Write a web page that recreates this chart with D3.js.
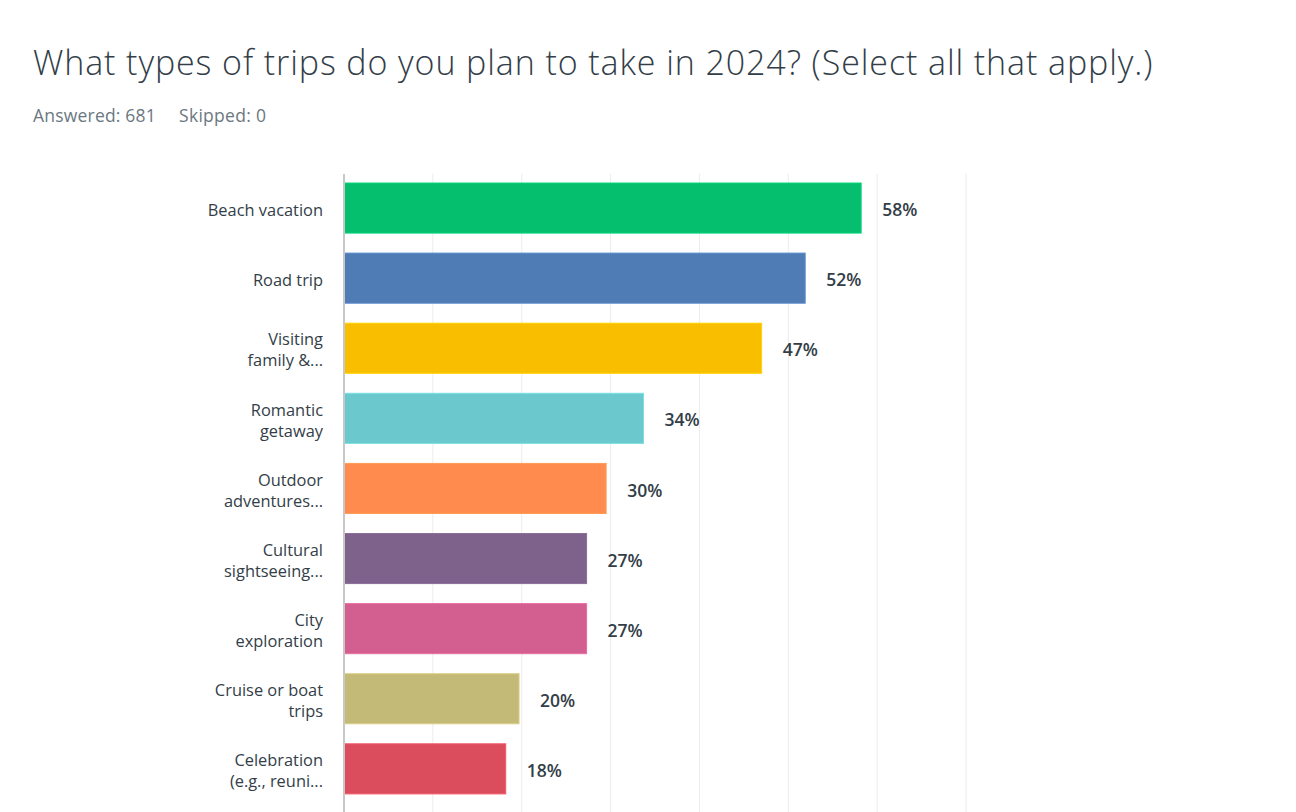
<!DOCTYPE html>
<html>
<head>
<meta charset="utf-8">
<script src="https://cdn.jsdelivr.net/npm/d3@7"></script>
<style>
  html, body { margin: 0; padding: 0; background: #fff; }
  svg { display: block; font-family: "Open Sans", "Noto Sans", sans-serif; }
</style>
</head>
<body>
<svg id="chart" width="1296" height="812"></svg>
<script>
// data
const title = 'What types of trips do you plan to take in 2024? (Select all that apply.)'
const answered = 681
const skipped = 0
const categories = [
  'Beach vacation',
  'Road trip',
  'Visiting|family &...',
  'Romantic|getaway',
  'Outdoor|adventures...',
  'Cultural|sightseeing...',
  'City|exploration',
  'Cruise or boat|trips',
  'Celebration|(e.g., reuni...'
]
const values = [58.2, 51.9, 47.0, 33.7, 29.5, 27.3, 27.3, 19.7, 18.2]
const colors = ['#05bf6f', '#507cb6', '#f9be00', '#6bc8cd', '#ff8b4f', '#7f628b', '#d25f90', '#c4ba78', '#db4d5c']
const ticks = [0, 10, 20, 30, 40, 50, 60, 70]

const rows = categories.map((c, i) => ({ label: c, value: values[i], color: colors[i] }))

const $svg = d3.select('#chart')

// dimension stuff
const plotLeft = 344
const plotRight = 966
const plotTop = 174
const plotBottom = 812
const step = 70.1

const scaleX = d3.scaleLinear().domain([0, 70]).range([plotLeft, plotRight])
const scaleY = d3.scaleBand()
  .domain(categories)
  .range([plotTop - 1, plotTop - 1 + step * categories.length])
  .paddingInner(20 / 70)
  .paddingOuter(10 / 70)

// header
$svg.append('text')
  .attr('x', 33)
  .attr('y', 75)
  .attr('fill', '#333e48')
  .style('font-size', '34px')
  .style('font-weight', 300)
  .style('letter-spacing', '0.9px')
  .text(title)

$svg.append('text')
  .attr('x', 33)
  .attr('y', 122)
  .attr('fill', '#6b787f')
  .style('font-size', '17.5px')
  .style('letter-spacing', '0.2px')
  .text(`Answered: ${answered}`)

$svg.append('text')
  .attr('x', 179)
  .attr('y', 122)
  .attr('fill', '#6b787f')
  .style('font-size', '17.5px')
  .style('letter-spacing', '0.3px')
  .text(`Skipped: ${skipped}`)

// grid
$svg.append('g')
  .selectAll('line')
  .data(ticks.slice(1))
  .join('line')
  .attr('x1', d => scaleX(d))
  .attr('x2', d => scaleX(d))
  .attr('y1', plotTop)
  .attr('y2', plotBottom)
  .attr('stroke', '#ececec')
  .attr('stroke-width', 1)

// bars
const $rows = $svg.append('g')
  .selectAll('g')
  .data(rows)
  .join('g')
  .attr('transform', d => `translate(0,${scaleY(d.label)})`)

$rows.append('rect')
  .attr('x', scaleX(0))
  .attr('y', 0)
  .attr('width', d => scaleX(d.value) - scaleX(0))
  .attr('height', scaleY.bandwidth())
  .attr('fill', d => d.color)
  .attr('stroke', d => d3.color(d.color).brighter(0.3))
  .attr('stroke-width', 1)

$rows.append('text')
  .attr('x', d => scaleX(d.value) + 21)
  .attr('y', scaleY.bandwidth() / 2 + 2)
  .attr('dy', '0.35em')
  .attr('fill', '#333e48')
  .style('font-size', '17.5px')
  .style('font-weight', 600)
  .text(d => `${Math.round(d.value)}%`)

// category labels
const $labels = $rows.append('text')
  .attr('text-anchor', 'end')
  .attr('fill', '#333e48')
  .style('font-size', '16.4px')

$labels.selectAll('tspan')
  .data(d => d.label.split('|'))
  .join('tspan')
  .attr('x', plotLeft - 21)
  .attr('y', (d, i, nodes) => scaleY.bandwidth() / 2 + 2 + (i - (nodes.length - 1) / 2) * 21)
  .attr('dy', '0.35em')
  .text(d => d)

// axis line
$svg.append('line')
  .attr('x1', plotLeft)
  .attr('x2', plotLeft)
  .attr('y1', plotTop)
  .attr('y2', plotBottom)
  .attr('stroke', '#c8c8c8')
  .attr('stroke-width', 2)
</script>
</body>
</html>
